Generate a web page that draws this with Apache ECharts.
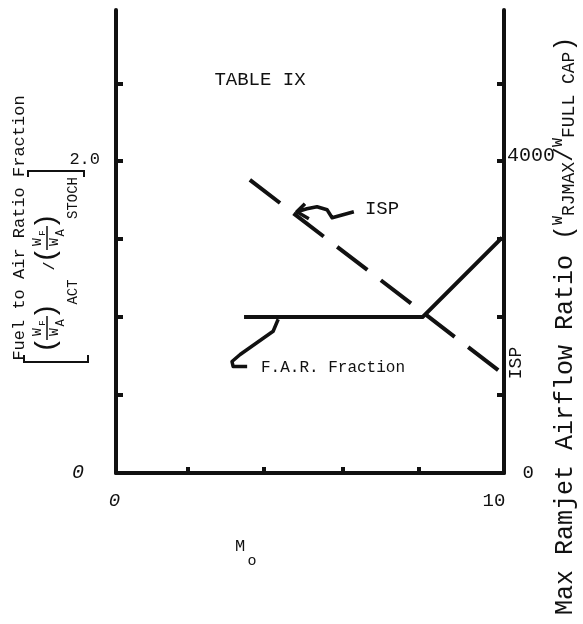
<!DOCTYPE html>
<html><head><meta charset="utf-8">
<script src="https://cdn.jsdelivr.net/npm/echarts@6/dist/echarts.min.js"></script>
<style>html,body{margin:0;padding:0;background:#fff}#c{width:583px;height:624px}</style>
</head><body><div id="c"></div>
<script>
// ---- data ----
const xTicks = [1.85, 3.8, 5.85, 7.8];
const xLabels = [0, 10];
const leftTicks = [0.5, 1, 1.5, 2, 2.5];
const leftLabels = [0, 2];
const rightTicks = [1000, 2000, 3000, 4000, 5000];
const rightLabels = [0, 4000];
// F.A.R. Fraction (left axis)
const farX = [3.3, 7.9, 9.95];
const farY = [1.0, 1.0, 1.51];
// ISP (right axis)
const ispX = [3.45, 9.85];
const ispY = [3760, 1320];
// leader arrow for F.A.R. label (left axis)
const hookX = [4.18, 4.05, 3.20, 2.99, 3.02, 3.38];
const hookY = [0.986, 0.909, 0.760, 0.715, 0.683, 0.683];
// leader arrow for ISP label (right axis)
const squigX = [6.13, 5.57, 5.44, 5.18, 4.92, 4.66, 4.87];
const squigY = [3351, 3274, 3377, 3416, 3390, 3351, 3454];
const arrowX = [4.66, 4.97];
const arrowY = [3351, 3261];

const zip = (a, b) => a.map((v, i) => [v, b[i]]);
const FONT = '"Liberation Mono", monospace';
const ink = '#111';

function rt(text, x, y, size, align) {
  return { type: 'text', x: x, y: y, rotation: Math.PI / 2,
    style: { text: text, fontSize: size, fontFamily: FONT, fill: ink,
      align: align || 'center', verticalAlign: 'middle' } };
}
function ht(text, x, y, size) {
  return { type: 'text', x: x, y: y,
    style: { text: text, fontSize: size, fontFamily: FONT, fill: ink,
      align: 'center', verticalAlign: 'middle' } };
}
function pl(points, w) {
  return { type: 'polyline', shape: { points: points },
    style: { stroke: ink, lineWidth: w || 2, fill: null } };
}
// one (W_F / W_A) fraction in the rotated left title, centred at screen y = cy
function frac(cy) {
  return [
    rt('W', 38, cy + 4, 13), rt('F', 43, cy - 5, 9),
    pl([[47, cy + 12], [47, cy - 12]], 1.5),
    rt('W', 55, cy + 4, 13), rt('A', 61, cy - 5, 12),
    rt('(', 47, cy + 17, 28), rt(')', 47, cy - 17, 28)
  ];
}

const chart = echarts.init(document.getElementById('c'), null, { renderer: 'canvas' });
const lineSer = (data, yi, w, type) => ({
  type: 'line', data: data, yAxisIndex: yi, symbol: 'none', silent: true,
  lineStyle: { color: ink, width: w, type: type || 'solid', cap: 'butt', join: 'round' },
  animation: false
});

chart.setOption({
  backgroundColor: '#fff',
  animation: false,
  grid: { left: 116, right: 79, top: 10, bottom: 151, containLabel: false },
  xAxis: {
    type: 'value', min: 0, max: 10,
    axisLine: { lineStyle: { color: ink, width: 4 } },
    axisTick: { inside: true, length: 6, lineStyle: { color: ink, width: 4 }, customValues: xTicks },
    axisLabel: {
      customValues: xLabels, margin: 18, color: ink, fontFamily: FONT, fontSize: 19,
      formatter: v => v === 10 ? '{t|10}' : '{z|0}',
      rich: { t: { fontFamily: FONT, fontSize: 19, padding: [0, 20, 0, 0] },
              z: { fontFamily: FONT, fontSize: 19, fontStyle: 'italic', padding: [0, 3, 0, 0] } }
    },
    splitLine: { show: false }
  },
  yAxis: [{
    type: 'value', min: 0, max: 2.97, position: 'left',
    axisLine: { show: true, lineStyle: { color: ink, width: 4 } },
    axisTick: { show: true, inside: true, length: 7, lineStyle: { color: ink, width: 4 }, customValues: leftTicks },
    axisLabel: {
      customValues: leftLabels, margin: 16, color: ink, fontFamily: FONT, fontSize: 17,
      formatter: v => v === 0 ? '{z|0}' : '{n|' + v.toFixed(1) + '}',
      rich: { z: { fontFamily: FONT, fontSize: 20, fontStyle: 'italic', padding: [0, 16, 0, 0] },
              n: { fontFamily: FONT, fontSize: 17, padding: [0, 0, 4, 0] } }
    },
    splitLine: { show: false }
  }, {
    type: 'value', min: 0, max: 5940, position: 'right',
    axisLine: { show: true, lineStyle: { color: ink, width: 4 } },
    axisTick: { show: true, inside: true, length: 7, lineStyle: { color: ink, width: 4 }, customValues: rightTicks },
    axisLabel: {
      customValues: rightLabels, margin: 3, color: ink, fontFamily: FONT, fontSize: 20,
      formatter: v => v === 0 ? '{z| 0}' : '{n|' + v + '}',
      rich: { z: { fontFamily: FONT, fontSize: 19, padding: [0, 0, 0, 4] },
              n: { fontFamily: FONT, fontSize: 20, padding: [0, 0, 12, 0] } }
    },
    splitLine: { show: false }
  }],
  series: [
    lineSer(zip(farX, farY), 0, 4),
    lineSer(zip(ispX, ispY), 1, 4, [38, 17]),
    lineSer(zip(hookX, hookY), 0, 3.5),
    lineSer(zip(squigX, squigY), 1, 3.5),
    lineSer(zip(arrowX, arrowY), 1, 3.5)
  ],
  graphic: [
    ht('TABLE IX', 260, 80, 19),
    ht('ISP', 382, 209, 19),
    ht('F.A.R. Fraction', 333, 368, 16),
    rt('ISP', 516, 363, 18),
    ht('M', 240, 546, 17),
    ht('o', 252, 561, 15),
    // left axis title
    rt('Fuel to Air Ratio Fraction', 19, 228, 17),
    ...frac(328),
    rt('ACT', 73, 292, 14),
    rt('/', 50, 266, 15),
    ...frac(238),
    rt('STOCH', 73, 198, 14),
    // brackets
    pl([[24, 355], [24, 362], [88, 362], [88, 355]], 2),
    pl([[28, 177], [28, 171], [84, 171], [84, 177]], 2),
    // right axis title
    rt('Max Ramjet Airflow Ratio (', 565, 615, 25, 'left'),
    rt('W', 558, 225, 15, 'left'),
    rt('RJMAX', 569, 216, 18, 'left'),
    rt('/', 565, 162, 25, 'left'),
    rt('W', 558, 147, 15, 'left'),
    rt('FULL CAP', 569, 138, 18, 'left'),
    rt(')', 565, 51.6, 25, 'left')
  ]
});
</script>
</body></html>
